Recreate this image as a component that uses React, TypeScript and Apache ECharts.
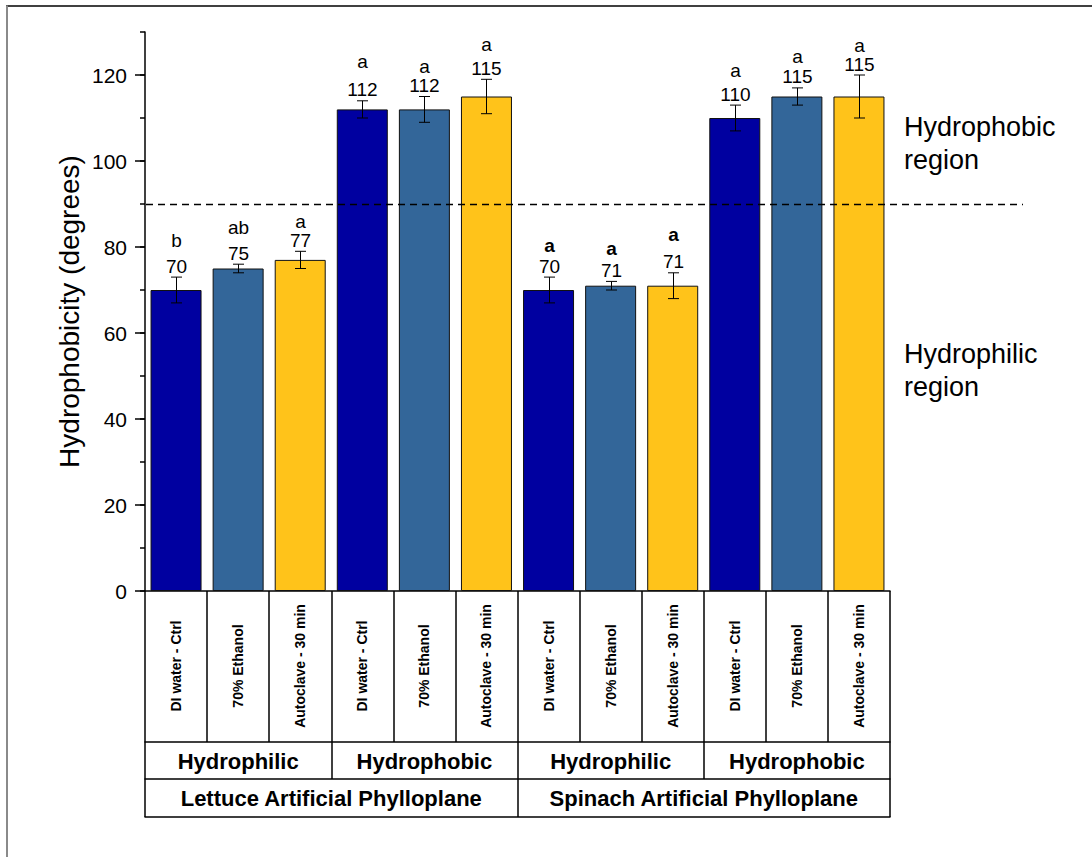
import React, { useEffect, useRef } from "react";
import * as echarts from "echarts";

// Treatment per column, surface type per triple, phylloplane per six columns
const treatments = [
  "DI water - Ctrl", "70% Ethanol", "Autoclave - 30 min",
  "DI water - Ctrl", "70% Ethanol", "Autoclave - 30 min",
  "DI water - Ctrl", "70% Ethanol", "Autoclave - 30 min",
  "DI water - Ctrl", "70% Ethanol", "Autoclave - 30 min",
];
const surfaceTypes = ["Hydrophilic", "Hydrophobic", "Hydrophilic", "Hydrophobic"];
const phylloplanes = ["Lettuce Artificial Phylloplane", "Spinach Artificial Phylloplane"];

// Contact angle (degrees) and its error
const contactAngle = [70, 75, 77, 112, 112, 115, 70, 71, 71, 110, 115, 115];
const angleError = [3, 1, 2, 2, 3, 4, 3, 1, 3, 3, 2, 5];

// Statistical grouping letters
const groupLetters = ["b", "ab", "a", "a", "a", "a", "a", "a", "a", "a", "a", "a"];
const boldLetters = [false, false, false, false, false, false, true, true, true, false, false, false];

const yMajorMax = 120;
const yAxisMax = 130;
const thresholdAngle = 90;

// Styling
const treatmentColors = ["#0000A0", "#336699", "#FFC31A"];
const letterLift = [26, 26, 19, 28, 19, 24, 21, 22, 27, 24, 20, 19];
const FONT = 'Arial, "Liberation Sans", Helvetica, sans-serif';
const black = "#000000";

// Plot frame in pixels
const PLOT_LEFT = 145;
const PLOT_RIGHT = 202;
const PLOT_TOP = 32;
const PLOT_BOTTOM = 266;
const PLOT_HEIGHT = 857 - PLOT_TOP - PLOT_BOTTOM;

function buildOption() {
  const lineStyle = { color: black, width: 1.5 };
  const majorTop = PLOT_TOP + ((yAxisMax - yMajorMax) / yAxisMax) * PLOT_HEIGHT;
  return {
    animation: false,
    backgroundColor: "#ffffff",
    grid: [
      { left: PLOT_LEFT, right: PLOT_RIGHT, top: PLOT_TOP, bottom: PLOT_BOTTOM, containLabel: false },
      // same frame, limited to the labelled range 0..120 (major ticks)
      { left: PLOT_LEFT, right: PLOT_RIGHT, top: majorTop, bottom: PLOT_BOTTOM, containLabel: false },
    ],
    xAxis: [
      {
        type: "category",
        gridIndex: 0,
        data: treatments,
        position: "bottom",
        axisLine: { show: true, lineStyle },
        axisTick: { show: true, length: 151, alignWithLabel: false, interval: 0, lineStyle },
        axisLabel: {
          interval: 0,
          rotate: 90,
          align: "center",
          verticalAlign: "middle",
          margin: 75,
          fontFamily: FONT,
          fontWeight: "bold",
          fontSize: 14,
          color: black,
        },
        splitLine: { show: false },
      },
      {
        type: "category",
        gridIndex: 0,
        data: surfaceTypes.map((_, i) => "surface-" + i),
        position: "bottom",
        offset: 151,
        axisLine: { show: true, lineStyle },
        axisTick: { show: true, length: 37, alignWithLabel: false, interval: 0, lineStyle },
        axisLabel: {
          interval: 0,
          formatter: (_v: string, i: number) => surfaceTypes[i],
          verticalAlign: "middle",
          margin: 19,
          fontFamily: FONT,
          fontWeight: "bold",
          fontSize: 22,
          color: black,
        },
        splitLine: { show: false },
      },
      {
        type: "category",
        gridIndex: 0,
        data: phylloplanes,
        position: "bottom",
        offset: 188,
        axisLine: { show: true, lineStyle },
        axisTick: { show: true, length: 38, alignWithLabel: false, interval: 0, lineStyle },
        axisLabel: {
          interval: 0,
          verticalAlign: "middle",
          margin: 19,
          fontFamily: FONT,
          fontWeight: "bold",
          fontSize: 22,
          color: black,
        },
        splitLine: { show: false },
      },
      {
        type: "category",
        gridIndex: 0,
        data: phylloplanes,
        position: "bottom",
        offset: 226,
        axisLine: { show: true, lineStyle },
        axisTick: { show: false },
        axisLabel: { show: false },
        splitLine: { show: false },
      },
      {
        type: "category",
        gridIndex: 1,
        data: treatments,
        show: false,
      },
    ],
    yAxis: [
      {
        type: "value",
        gridIndex: 0,
        position: "left",
        min: 0,
        max: yAxisMax,
        interval: 10,
        name: "Hydrophobicity (degrees)",
        nameLocation: "middle",
        nameRotate: 90,
        nameGap: 62,
        nameTextStyle: { fontFamily: FONT, fontSize: 28, color: black },
        axisLine: { show: true, lineStyle },
        axisTick: { show: true, length: 5, lineStyle },
        axisLabel: { show: false },
        splitLine: { show: false },
      },
      {
        type: "value",
        gridIndex: 1,
        position: "left",
        min: 0,
        max: yMajorMax,
        interval: 20,
        axisLine: { show: false },
        axisTick: { show: true, length: 10, lineStyle },
        axisLabel: {
          margin: 18,
          fontFamily: FONT,
          fontSize: 21,
          color: black,
        },
        splitLine: { show: false },
      },
    ],
    series: [
      {
        type: "bar",
        xAxisIndex: 0,
        yAxisIndex: 0,
        barWidth: 51,
        data: contactAngle.map((v, i) => ({
          value: v,
          itemStyle: { color: treatmentColors[i % 3] },
        })),
        itemStyle: { borderColor: "#111111", borderWidth: 1 },
        markLine: {
          silent: true,
          symbol: ["none", "none"],
          label: { show: false },
          lineStyle: { color: black, type: [7, 5], width: 1.3 },
          data: [[{ yAxis: thresholdAngle, x: 146 }, { yAxis: thresholdAngle, x: 1023 }]],
        },
      },
      {
        type: "custom",
        xAxisIndex: 0,
        yAxisIndex: 0,
        z: 5,
        silent: true,
        data: contactAngle.map((v, i) => [i, v]),
        renderItem: (params: any, api: any) => {
          const i = params.dataIndex;
          const v = contactAngle[i];
          const e = angleError[i];
          const top = api.coord([i, v + e]);
          const bot = api.coord([i, v - e]);
          const x = Math.round(top[0]) + 0.5;
          const cap = 5.5;
          const stroke = { stroke: black, lineWidth: 1 };
          const numY = top[1] - 11;
          const letY = numY - letterLift[i];
          return {
            type: "group",
            children: [
              { type: "line", shape: { x1: x, y1: top[1], x2: x, y2: bot[1] }, style: stroke },
              { type: "line", shape: { x1: x - cap, y1: top[1], x2: x + cap, y2: top[1] }, style: stroke },
              { type: "line", shape: { x1: x - cap, y1: bot[1], x2: x + cap, y2: bot[1] }, style: stroke },
              {
                type: "text",
                style: {
                  text: String(v),
                  x,
                  y: numY,
                  align: "center",
                  verticalAlign: "middle",
                  fontFamily: FONT,
                  fontSize: 19,
                  fill: black,
                },
              },
              {
                type: "text",
                style: {
                  text: groupLetters[i],
                  x,
                  y: letY,
                  align: "center",
                  verticalAlign: "middle",
                  fontFamily: FONT,
                  fontSize: 19,
                  fontWeight: boldLetters[i] ? "bold" : "normal",
                  fill: black,
                },
              },
            ],
          };
        },
      },
    ],
    graphic: [
      {
        type: "line",
        shape: { x1: 6, y1: 6, x2: 1092, y2: 6 },
        style: { stroke: black, lineWidth: 1.5 },
        silent: true,
      },
      {
        type: "line",
        shape: { x1: 7, y1: 5.5, x2: 7, y2: 857 },
        style: { stroke: "#8a8a8a", lineWidth: 2 },
        silent: true,
      },
      {
        type: "text",
        left: 904,
        top: 110,
        style: {
          text: "Hydrophobic\nregion",
          fontFamily: FONT,
          fontSize: 27,
          lineHeight: 33,
          fill: black,
        },
        silent: true,
      },
      {
        type: "text",
        left: 904,
        top: 337,
        style: {
          text: "Hydrophilic\nregion",
          fontFamily: FONT,
          fontSize: 27,
          lineHeight: 33,
          fill: black,
        },
        silent: true,
      },
    ],
  };
}

export default function App() {
  const ref = useRef<HTMLDivElement>(null);
  useEffect(() => {
    if (!ref.current) return;
    const chart = echarts.init(ref.current, null, { renderer: "svg" });
    chart.setOption(buildOption() as any);
    return () => chart.dispose();
  }, []);
  return (
    <div
      ref={ref}
      style={{ position: "absolute", left: 0, top: 0, width: 1092, height: 857, background: "#ffffff" }}
    />
  );
}
